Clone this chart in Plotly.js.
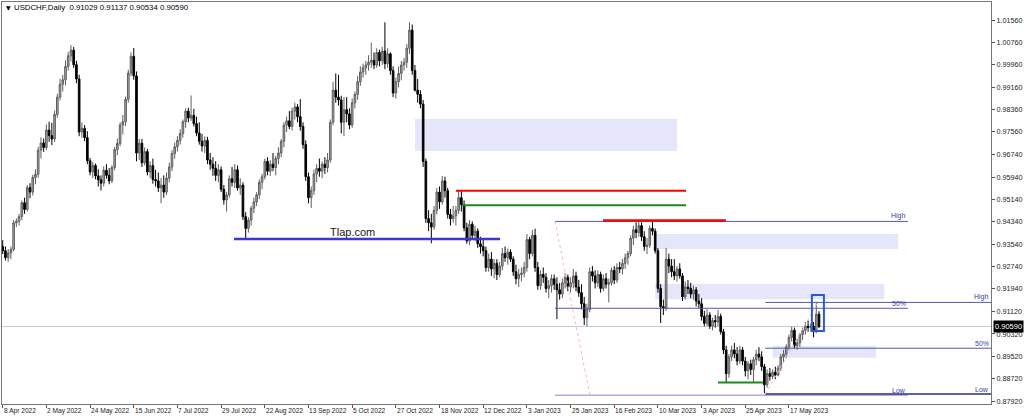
<!DOCTYPE html>
<html>
<head>
<meta charset="utf-8">
<script src="https://cdn.plot.ly/plotly-3.0.1.min.js"></script>
<style>
  html, body { margin: 0; padding: 0; background: #fff; }
  #chart { width: 1024px; height: 418px; }
</style>
</head>
<body>
<div id="chart"></div>
<script>
// USDCHF daily bars, 8 Apr 2022 .. 1 Jun 2023 (one line per week)
var open = [
  0.9345,
  0.9330,0.9305,0.9322,0.9335,0.9430,
  0.9436,0.9452,0.9502,0.9478,0.9556,
  0.9540,0.9592,0.9604,0.9690,0.9716,
  0.9700,0.9762,0.9742,0.9730,0.9818,
  0.9880,0.9926,0.9942,0.9990,1.0028,
  1.0048,0.9996,0.9945,0.9755,0.9768,
  0.9735,0.9652,0.9612,0.9635,0.9598,
  0.9584,0.9572,0.9618,0.9600,0.9580,
  0.9628,0.9692,0.9714,0.9780,0.9792,
  0.9872,0.9966,1.0026,0.9956,0.9680,
  0.9715,0.9645,0.9685,0.9612,0.9635,
  0.9585,0.9580,0.9555,0.9565,0.9540,
  0.9590,0.9630,0.9678,0.9702,0.9725,
  0.9750,0.9792,0.9830,0.9805,0.9815,
  0.9785,0.9752,0.9722,0.9705,0.9725,
  0.9655,0.9640,0.9625,0.9600,0.9620,
  0.9550,0.9512,0.9530,0.9588,0.9575,
  0.9620,0.9555,0.9565,0.9452,0.9410,
  0.9440,0.9482,0.9505,0.9530,0.9575,
  0.9595,0.9650,0.9615,0.9640,0.9628,
  0.9660,0.9680,0.9722,0.9780,0.9795,
  0.9775,0.9830,0.9845,0.9810,0.9775,
  0.9710,0.9595,0.9520,0.9545,0.9605,
  0.9625,0.9615,0.9640,0.9628,0.9655,
  0.9790,0.9905,0.9880,0.9870,0.9790,
  0.9835,0.9820,0.9780,0.9860,0.9890,
  0.9935,0.9970,0.9985,0.9995,1.0005,
  1.0012,0.9995,1.0040,1.0010,1.0045,
  1.0000,1.0035,0.9975,0.9895,0.9935,
  0.9965,0.9995,1.0005,1.0055,1.0120,
  0.9975,0.9905,0.9890,0.9855,0.9650,
  0.9445,0.9430,0.9415,0.9475,0.9540,
  0.9505,0.9580,0.9545,0.9460,0.9445,
  0.9455,0.9475,0.9520,0.9495,0.9412,
  0.9365,0.9425,0.9385,0.9400,0.9355,
  0.9345,0.9330,0.9270,0.9300,0.9265,
  0.9285,0.9245,0.9275,0.9320,0.9305,
  0.9325,0.9300,0.9255,0.9230,0.9245,
  0.9250,0.9270,0.9370,0.9320,0.9385,
  0.9270,0.9205,0.9245,0.9235,0.9195,
  0.9205,0.9230,0.9210,0.9190,0.9175,
  0.9215,0.9235,0.9200,0.9215,0.9240,
  0.9200,0.9180,0.9140,0.9090,0.9120,
  0.9255,0.9240,0.9215,0.9245,0.9195,
  0.9230,0.9210,0.9215,0.9260,0.9225,
  0.9270,0.9265,0.9285,0.9305,0.9320,
  0.9375,0.9405,0.9395,0.9420,0.9380,
  0.9345,0.9350,0.9410,0.9400,0.9330,
  0.9195,0.9130,0.9125,0.9300,0.9275,
  0.9255,0.9240,0.9265,0.9240,0.9165,
  0.9200,0.9195,0.9175,0.9190,0.9150,
  0.9140,0.9095,0.9070,0.9100,0.9060,
  0.9080,0.9075,0.9095,0.9040,0.8975,
  0.8890,0.8950,0.8975,0.8960,0.8935,
  0.8975,0.8935,0.8900,0.8925,0.8905,
  0.8940,0.8960,0.8950,0.8915,0.8850,
  0.8890,0.8880,0.8895,0.8885,0.8910,
  0.8950,0.8960,0.8985,0.9020,0.9045,
  0.8990,0.9000,0.9030,0.9045,0.9060,
  0.9055,0.9060,0.9040,0.91029
];
var high = [
  0.9368,
  0.9345,0.9336,0.9345,0.9440,0.9446,
  0.9462,0.9510,0.9520,0.9565,0.9572,
  0.9602,0.9622,0.9702,0.9736,0.9732,
  0.9782,0.9792,0.9788,0.9832,0.9892,
  0.9946,0.9960,1.0012,1.0042,1.0066,
  1.0060,1.0010,0.9960,0.9790,0.9780,
  0.9758,0.9662,0.9648,0.9642,0.9622,
  0.9600,0.9632,0.9640,0.9626,0.9636,
  0.9702,0.9732,0.9790,0.9816,0.9882,
  0.9978,1.0040,1.0056,0.9972,0.9730,
  0.9730,0.9700,0.9695,0.9650,0.9660,
  0.9620,0.9610,0.9590,0.9600,0.9610,
  0.9645,0.9690,0.9718,0.9740,0.9765,
  0.9800,0.9840,0.9842,0.9886,0.9838,
  0.9810,0.9790,0.9748,0.9740,0.9738,
  0.9680,0.9665,0.9650,0.9640,0.9632,
  0.9565,0.9540,0.9600,0.9630,0.9640,
  0.9635,0.9590,0.9575,0.9468,0.9450,
  0.9490,0.9520,0.9540,0.9585,0.9605,
  0.9660,0.9665,0.9655,0.9680,0.9670,
  0.9700,0.9730,0.9790,0.9810,0.9830,
  0.9842,0.9860,0.9855,0.9873,0.9790,
  0.9725,0.9610,0.9560,0.9620,0.9640,
  0.9660,0.9650,0.9665,0.9680,0.9800,
  0.9935,0.9965,0.9960,0.9885,0.9880,
  0.9880,0.9840,0.9875,0.9900,0.9955,
  0.9990,1.0000,1.0010,1.0030,1.0075,
  1.0040,1.0055,1.0050,1.0060,1.0148,
  1.0055,1.0040,0.9990,0.9950,0.9990,
  1.0010,1.0020,1.0070,1.0148,1.0140,
  0.9995,0.9945,0.9905,0.9870,0.9660,
  0.9475,0.9462,0.9490,0.9555,0.9560,
  0.9598,0.9595,0.9555,0.9480,0.9490,
  0.9490,0.9546,0.9545,0.9510,0.9430,
  0.9440,0.9435,0.9420,0.9410,0.9380,
  0.9375,0.9345,0.9320,0.9325,0.9300,
  0.9300,0.9290,0.9340,0.9345,0.9338,
  0.9335,0.9310,0.9280,0.9265,0.9270,
  0.9290,0.9390,0.9380,0.9405,0.9409,
  0.9290,0.9260,0.9270,0.9250,0.9225,
  0.9245,0.9245,0.9235,0.9215,0.9230,
  0.9250,0.9245,0.9235,0.9265,0.9255,
  0.9225,0.9210,0.9165,0.9140,0.9270,
  0.9275,0.9260,0.9260,0.9255,0.9245,
  0.9250,0.9230,0.9270,0.9275,0.9285,
  0.9290,0.9300,0.9320,0.9330,0.9385,
  0.9420,0.9432,0.9440,0.9432,0.9400,
  0.9375,0.9420,0.9440,0.9410,0.9340,
  0.9210,0.9155,0.9340,0.9320,0.9300,
  0.9300,0.9275,0.9285,0.9250,0.9220,
  0.9225,0.9215,0.9205,0.9200,0.9175,
  0.9160,0.9115,0.9120,0.9110,0.9090,
  0.9100,0.9118,0.9105,0.9050,0.8990,
  0.8960,0.8990,0.9000,0.8985,0.8990,
  0.8985,0.8950,0.8935,0.8940,0.8950,
  0.8975,0.8985,0.8970,0.8925,0.8905,
  0.8910,0.8905,0.8915,0.8920,0.8960,
  0.8975,0.8995,0.9030,0.9058,0.9055,
  0.9015,0.9035,0.9055,0.9075,0.9080,
  0.9070,0.9075,0.9147,0.91137
];
var low = [
  0.9318,
  0.9295,0.9290,0.9300,0.9328,0.9415,
  0.9420,0.9440,0.9462,0.9470,0.9518,
  0.9528,0.9568,0.9592,0.9660,0.9684,
  0.9690,0.9720,0.9708,0.9720,0.9806,
  0.9868,0.9900,0.9922,0.9975,1.0008,
  0.9985,0.9930,0.9740,0.9735,0.9722,
  0.9640,0.9600,0.9590,0.9586,0.9560,
  0.9546,0.9560,0.9588,0.9568,0.9572,
  0.9618,0.9672,0.9704,0.9746,0.9776,
  0.9860,0.9955,0.9942,0.9650,0.9655,
  0.9630,0.9635,0.9600,0.9590,0.9570,
  0.9560,0.9540,0.9500,0.9520,0.9530,
  0.9575,0.9615,0.9660,0.9685,0.9710,
  0.9735,0.9770,0.9790,0.9795,0.9775,
  0.9740,0.9710,0.9685,0.9680,0.9640,
  0.9620,0.9598,0.9580,0.9575,0.9540,
  0.9495,0.9470,0.9520,0.9560,0.9555,
  0.9545,0.9530,0.9440,0.9371,0.9395,
  0.9420,0.9465,0.9490,0.9515,0.9550,
  0.9585,0.9600,0.9598,0.9615,0.9600,
  0.9640,0.9665,0.9700,0.9755,0.9765,
  0.9760,0.9800,0.9790,0.9760,0.9695,
  0.9580,0.9500,0.9483,0.9530,0.9575,
  0.9595,0.9590,0.9605,0.9610,0.9645,
  0.9780,0.9860,0.9850,0.9750,0.9740,
  0.9790,0.9765,0.9770,0.9840,0.9870,
  0.9920,0.9950,0.9960,0.9975,0.9985,
  0.9980,0.9985,0.9990,0.9995,0.9980,
  0.9985,0.9960,0.9880,0.9875,0.9915,
  0.9940,0.9975,0.9985,1.0035,0.9960,
  0.9900,0.9860,0.9840,0.9630,0.9430,
  0.9400,0.9357,0.9405,0.9460,0.9480,
  0.9495,0.9520,0.9445,0.9420,0.9430,
  0.9420,0.9462,0.9470,0.9400,0.9355,
  0.9350,0.9370,0.9365,0.9340,0.9320,
  0.9310,0.9255,0.9255,0.9240,0.9232,
  0.9225,0.9235,0.9260,0.9290,0.9280,
  0.9290,0.9240,0.9210,0.9200,0.9220,
  0.9235,0.9255,0.9300,0.9310,0.9255,
  0.9190,0.9190,0.9215,0.9180,0.9160,
  0.9180,0.9190,0.9085,0.9155,0.9160,
  0.9195,0.9185,0.9180,0.9195,0.9185,
  0.9165,0.9120,0.9064,0.9060,0.9110,
  0.9220,0.9195,0.9200,0.9180,0.9185,
  0.9195,0.9145,0.9205,0.9210,0.9215,
  0.9250,0.9245,0.9265,0.9280,0.9310,
  0.9350,0.9375,0.9380,0.9365,0.9330,
  0.9318,0.9340,0.9385,0.9320,0.9180,
  0.9071,0.9100,0.9115,0.9250,0.9235,
  0.9225,0.9220,0.9230,0.9150,0.9155,
  0.9175,0.9160,0.9155,0.9130,0.9125,
  0.9080,0.9060,0.9060,0.9050,0.9045,
  0.9055,0.9060,0.9030,0.8960,0.8858,
  0.8875,0.8935,0.8945,0.8920,0.8925,
  0.8920,0.8880,0.8870,0.8885,0.8858,
  0.8920,0.8935,0.8900,0.8820,0.8840,
  0.8865,0.8870,0.8870,0.8880,0.8900,
  0.8930,0.8945,0.8975,0.9005,0.8980,
  0.8975,0.8985,0.9010,0.9030,0.9040,
  0.9040,0.9020,0.9035,0.90534
];
var close = [
  0.9330,
  0.9305,0.9322,0.9335,0.9430,0.9436,
  0.9452,0.9502,0.9478,0.9556,0.9540,
  0.9592,0.9604,0.9690,0.9716,0.9700,
  0.9762,0.9742,0.9730,0.9818,0.9880,
  0.9926,0.9942,0.9990,1.0028,1.0048,
  0.9996,0.9945,0.9755,0.9768,0.9735,
  0.9652,0.9612,0.9635,0.9598,0.9584,
  0.9572,0.9618,0.9600,0.9580,0.9628,
  0.9692,0.9714,0.9780,0.9792,0.9872,
  0.9966,1.0026,0.9956,0.9680,0.9715,
  0.9645,0.9685,0.9612,0.9635,0.9585,
  0.9580,0.9555,0.9565,0.9540,0.9590,
  0.9630,0.9678,0.9702,0.9725,0.9750,
  0.9792,0.9830,0.9805,0.9815,0.9785,
  0.9752,0.9722,0.9705,0.9725,0.9655,
  0.9640,0.9625,0.9600,0.9620,0.9550,
  0.9512,0.9530,0.9588,0.9575,0.9620,
  0.9555,0.9565,0.9452,0.9410,0.9440,
  0.9482,0.9505,0.9530,0.9575,0.9595,
  0.9650,0.9615,0.9640,0.9628,0.9660,
  0.9680,0.9722,0.9780,0.9795,0.9775,
  0.9830,0.9845,0.9810,0.9775,0.9710,
  0.9595,0.9520,0.9545,0.9605,0.9625,
  0.9615,0.9640,0.9628,0.9655,0.9790,
  0.9905,0.9880,0.9870,0.9790,0.9835,
  0.9820,0.9780,0.9860,0.9890,0.9935,
  0.9970,0.9985,0.9995,1.0005,1.0012,
  0.9995,1.0040,1.0010,1.0045,1.0000,
  1.0035,0.9975,0.9895,0.9935,0.9965,
  0.9995,1.0005,1.0055,1.0120,0.9975,
  0.9905,0.9890,0.9855,0.9650,0.9445,
  0.9430,0.9415,0.9475,0.9540,0.9505,
  0.9580,0.9545,0.9460,0.9445,0.9455,
  0.9475,0.9520,0.9495,0.9412,0.9365,
  0.9425,0.9385,0.9400,0.9355,0.9345,
  0.9330,0.9270,0.9300,0.9265,0.9285,
  0.9245,0.9275,0.9320,0.9305,0.9325,
  0.9300,0.9255,0.9230,0.9245,0.9250,
  0.9270,0.9370,0.9320,0.9385,0.9270,
  0.9205,0.9245,0.9235,0.9195,0.9205,
  0.9230,0.9210,0.9190,0.9175,0.9215,
  0.9235,0.9200,0.9215,0.9240,0.9200,
  0.9180,0.9140,0.9090,0.9120,0.9255,
  0.9240,0.9215,0.9245,0.9195,0.9230,
  0.9210,0.9215,0.9260,0.9225,0.9270,
  0.9265,0.9285,0.9305,0.9320,0.9375,
  0.9405,0.9395,0.9420,0.9380,0.9345,
  0.9350,0.9410,0.9400,0.9330,0.9195,
  0.9130,0.9125,0.9300,0.9275,0.9255,
  0.9240,0.9265,0.9240,0.9165,0.9200,
  0.9195,0.9175,0.9190,0.9150,0.9140,
  0.9095,0.9070,0.9100,0.9060,0.9080,
  0.9075,0.9095,0.9040,0.8975,0.8890,
  0.8950,0.8975,0.8960,0.8935,0.8975,
  0.8935,0.8900,0.8925,0.8905,0.8940,
  0.8960,0.8950,0.8915,0.8850,0.8890,
  0.8880,0.8895,0.8885,0.8910,0.8950,
  0.8960,0.8985,0.9020,0.9045,0.8990,
  0.9000,0.9030,0.9045,0.9060,0.9055,
  0.9060,0.9040,0.9103,0.90590
];

// bottom axis: bar number of each date label
var dateTickBars = [0,16,32,48,64,80,96,112,128,144,160,176,192,208,224,240,256,272,288];
var dateTickText = ['8 Apr 2022','2 May 2022','24 May 2022','15 Jun 2022','7 Jul 2022','29 Jul 2022',
  '22 Aug 2022','13 Sep 2022','5 Oct 2022','27 Oct 2022','18 Nov 2022','12 Dec 2022',
  '3 Jan 2023','25 Jan 2023','16 Feb 2023','10 Mar 2023','3 Apr 2023','25 Apr 2023','17 May 2023'];

// price scale labels
var priceTicks = [1.01560,1.00760,0.99960,0.99160,0.98360,0.97560,0.96740,0.95940,0.95140,
  0.94340,0.93540,0.92740,0.91940,0.91120,0.90320,0.89520,0.88720,0.87920];

var lastPrice = 0.90590;

var font = 'Liberation Sans, Arial, sans-serif';
var fibCol = '#5757B0';

function hline(x0, x1, y, color, width, dash) {
  return {type: 'line', xref: 'x', yref: 'y', x0: x0, x1: x1, y0: y, y1: y,
    line: {color: color, width: width, dash: dash || 'solid'}};
}
function zone(x0, x1, y0, y1) {
  return {type: 'rect', xref: 'x', yref: 'y', x0: x0, x1: x1, y0: y0, y1: y1,
    fillcolor: '#E6E6FA', line: {width: 0}, layer: 'below'};
}
function fibLabel(x, y, t) {
  return {x: x, y: y, xref: 'x', yref: 'y', text: t, showarrow: false,
    xanchor: 'right', yanchor: 'bottom', yshift: -1,
    font: {family: font, size: 7, color: '#3C3C9C'}};
}

var shapes = [
  zone(151, 247, 0.96871, 0.98017),
  zone(239.2, 328, 0.93363, 0.93900),
  zone(239, 322.9, 0.91562, 0.92110),
  zone(282, 319.9, 0.89470, 0.89900),
  {type: 'line', xref: 'paper', yref: 'y', x0: 0, x1: 1, y0: lastPrice, y1: lastPrice,
    line: {color: '#C8C8C8', width: 1}, layer: 'below'},
  // fib set 1
  hline(202.3, 331.6, 0.9435, fibCol, 1),
  hline(202.3, 331.6, 0.9124, fibCol, 1),
  hline(202.3, 331.6, 0.8813, '#8585C8', 1),
  {type: 'line', x0: 202.3, x1: 215.1, y0: 0.9435, y1: 0.8813,
    line: {color: '#F2B8C6', width: 1, dash: 'dot'}},
  // fib set 2
  hline(279.3, 362, 0.9145, fibCol, 1),
  hline(279.3, 362, 0.8981, fibCol, 1),
  hline(279.3, 362, 0.8817, '#2A2A92', 1.5),
  {type: 'line', x0: 279.3, x1: 298.6, y0: 0.8817, y1: 0.9145,
    line: {color: '#F2B8C6', width: 1, dash: 'dot'}},
  // support / resistance
  hline(84.7, 182.2, 0.93721, '#3B3BCB', 2.5),
  hline(166, 250.3, 0.9545, '#FF0000', 2),
  hline(168.2, 250.3, 0.9493, '#1C8A1C', 2),
  hline(219.9, 264.9, 0.9438, '#FF0000', 2.5),
  hline(262, 278.5, 0.8858, '#1C8A1C', 2),
  {type: 'rect', x0: 296.4, x1: 300.8, y0: 0.90427, y1: 0.91716,
    line: {color: '#2A5BD7', width: 2}, fillcolor: 'rgba(0,0,0,0)'}
];

var annotations = [
  {xref: 'paper', yref: 'paper', x: 0, y: 1, xanchor: 'left', yanchor: 'top', xshift: 2, yshift: 0,
    text: '\u25BC', showarrow: false, font: {family: 'DejaVu Sans', size: 6, color: '#000'}},
  {xref: 'paper', yref: 'paper', x: 0, y: 1, xanchor: 'left', yanchor: 'top', xshift: 10, yshift: 1,
    text: 'USDCHF,Daily  0.91029 0.91137 0.90534 0.90590', showarrow: false,
    font: {family: font, size: 7.8, color: '#000'}},
  {x: 128.3, y: 0.9397, xref: 'x', yref: 'y', text: 'Tlap.com', showarrow: false,
    font: {family: font, size: 11, color: '#1A1A1A'}},
  fibLabel(331.6, 0.9435, 'High'),
  fibLabel(331.6, 0.9124, '50%'),
  fibLabel(331.6, 0.8813, 'Low'),
  fibLabel(362, 0.9145, 'High'),
  fibLabel(362, 0.8981, '50%'),
  fibLabel(362, 0.8817, 'Low'),
  {xref: 'paper', yref: 'y', x: 1, y: lastPrice, xanchor: 'left', xshift: 2,
    text: lastPrice.toFixed(5), showarrow: false, bgcolor: '#000', borderpad: 1,
    font: {family: font, size: 7.5, color: '#FFF'}}
];

// date labels sit to the right of their tick, as in the terminal
dateTickBars.forEach(function (b, k) {
  annotations.push({x: b, y: 0, xref: 'x', yref: 'paper', text: dateTickText[k],
    showarrow: false, xanchor: 'left', yanchor: 'top', xshift: -1, yshift: -1,
    font: {family: font, size: 6.6, color: '#222'}});
});

var trace = {
  type: 'candlestick',
  open: open, high: high, low: low, close: close,
  increasing: {line: {color: '#5F5F5F', width: 1}, fillcolor: '#A8A8A8'},
  decreasing: {line: {color: '#000000', width: 1}, fillcolor: '#000000'},
  whiskerwidth: 0,
  hoverinfo: 'skip'
};

var layout = {
  width: 1024, height: 418,
  margin: {l: 2, r: 33, t: 2, b: 14},
  paper_bgcolor: '#FFFFFF', plot_bgcolor: '#FFFFFF',
  showlegend: false,
  hovermode: false,
  boxgap: 0.15,
  xaxis: {
    range: [-0.26, 362],
    tickvals: dateTickBars, showticklabels: false,
    ticks: 'outside', ticklen: 3, tickcolor: '#555',
    showline: true, mirror: true, linecolor: '#777', linewidth: 1,
    showgrid: false, zeroline: false,
    rangeslider: {visible: false}
  },
  yaxis: {
    side: 'right',
    range: [0.87813, 1.02206],
    tickvals: priceTicks, ticktext: priceTicks.map(function (v) { return v.toFixed(5); }),
    ticks: 'outside', ticklen: 3, tickcolor: '#555',
    tickfont: {family: font, size: 7.2, color: '#222'},
    showline: true, mirror: true, linecolor: '#777', linewidth: 1,
    showgrid: false, zeroline: false
  },
  shapes: shapes,
  annotations: annotations
};

Plotly.newPlot('chart', [trace], layout, {staticPlot: true, displayModeBar: false});
</script>
</body>
</html>
